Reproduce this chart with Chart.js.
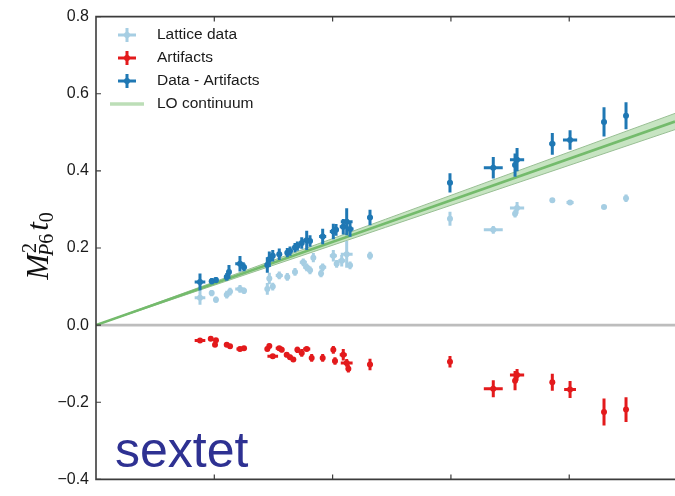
<!DOCTYPE html>
<html>
<head>
<meta charset="utf-8">
<script src="https://cdn.jsdelivr.net/npm/chart.js@4.4.1/dist/chart.umd.min.js"></script>
<style>
  html, body { margin: 0; padding: 0; background: #fff; }
</style>
</head>
<body>
<canvas id="chart" width="675" height="496"></canvas>
<script>
// axis ranges and ticks
const xMin = 0, xMax = 4.894;
const xTickValues = [1, 2, 3, 4];
const yTickValues = [-0.4, -0.2, 0.0, 0.2, 0.4, 0.6, 0.8];

const seriesNames = ["Lattice data", "Artifacts", "Data - Artifacts", "LO continuum"];

// Lattice data
const latX = [0.879,0.978,1.014,1.105,1.133,1.217,1.251,1.448,1.465,1.494,1.549,1.617,1.682,1.752,1.781,1.809,1.837,1.902,1.916,2.006,2.034,2.077,2.119,2.147,2.316,2.992,3.358,3.542,3.559,3.857,4.007,4.294,4.480];
const latY = [0.071,0.083,0.066,0.079,0.087,0.094,0.089,0.094,0.121,0.100,0.129,0.125,0.138,0.163,0.150,0.142,0.175,0.134,0.150,0.180,0.159,0.167,0.184,0.155,0.180,0.276,0.247,0.289,0.304,0.324,0.318,0.306,0.329];
const latXErr = [0.045,0.015,0.015,0.02,0.01,0.04,0.02,0.02,0.02,0.02,0.03,0.02,0.02,0.03,0.03,0.02,0.02,0.015,0.03,0.03,0.02,0.03,0.05,0.02,0.02,0.015,0.08,0.01,0.06,0.02,0.03,0.02,0.01];
const latYErr = [0.018,0.008,0.008,0.01,0.01,0.01,0.008,0.015,0.015,0.01,0.01,0.01,0.01,0.01,0.01,0.01,0.012,0.01,0.01,0.015,0.01,0.015,0.035,0.01,0.01,0.018,0.01,0.01,0.015,0.005,0.005,0.005,0.01];

// Artifacts
const artX = [0.879,0.970,1.014,1.006,1.105,1.133,1.217,1.251,1.448,1.465,1.494,1.549,1.570,1.612,1.640,1.668,1.702,1.739,1.781,1.823,1.916,2.006,2.020,2.090,2.119,2.133,2.316,2.992,3.358,3.542,3.559,3.857,4.007,4.294,4.480];
const artY = [-0.040,-0.035,-0.039,-0.051,-0.051,-0.055,-0.062,-0.060,-0.062,-0.054,-0.081,-0.060,-0.064,-0.077,-0.083,-0.089,-0.064,-0.072,-0.062,-0.085,-0.085,-0.064,-0.093,-0.077,-0.098,-0.113,-0.102,-0.095,-0.165,-0.144,-0.129,-0.148,-0.167,-0.225,-0.219];
const artXErr = [0.045,0.01,0.01,0.01,0.02,0.01,0.03,0.02,0.02,0.01,0.045,0.03,0.02,0.02,0.02,0.02,0.02,0.02,0.03,0.01,0.02,0.01,0.02,0.03,0.05,0.02,0.02,0.015,0.08,0.015,0.06,0.02,0.05,0.015,0.01];
const artYErr = [0.005,0.005,0.005,0.006,0.006,0.006,0.006,0.005,0.006,0.006,0.006,0.006,0.006,0.006,0.006,0.006,0.008,0.01,0.006,0.01,0.01,0.01,0.01,0.015,0.01,0.01,0.015,0.015,0.022,0.025,0.015,0.022,0.022,0.035,0.032];

// Data - Artifacts
const subX = [0.879,0.978,1.014,1.105,1.124,1.217,1.251,1.448,1.465,1.494,1.549,1.617,1.640,1.682,1.702,1.739,1.781,1.809,1.916,2.006,2.029,2.090,2.119,2.147,2.316,2.992,3.358,3.542,3.559,3.857,4.007,4.294,4.480];
const subY = [0.112,0.114,0.117,0.125,0.138,0.159,0.150,0.156,0.171,0.180,0.184,0.188,0.192,0.201,0.205,0.213,0.220,0.218,0.230,0.243,0.247,0.255,0.268,0.249,0.279,0.369,0.408,0.415,0.429,0.470,0.480,0.527,0.543];
const subXErr = [0.045,0.015,0.015,0.02,0.01,0.04,0.02,0.02,0.02,0.02,0.02,0.02,0.02,0.02,0.015,0.02,0.03,0.02,0.03,0.03,0.02,0.03,0.05,0.03,0.02,0.02,0.08,0.02,0.06,0.025,0.06,0.02,0.01];
const subYErr = [0.022,0.008,0.008,0.01,0.018,0.02,0.01,0.02,0.02,0.015,0.015,0.012,0.012,0.012,0.012,0.015,0.025,0.015,0.02,0.02,0.015,0.02,0.035,0.02,0.02,0.025,0.028,0.03,0.03,0.028,0.025,0.038,0.035];

// LO continuum line and its band
const loX = [0, 4.894];
const loMid = [0, 0.528];
const loHigh = [0, 0.549];
const loLow = [0, 0.507];

const latColor = "#a6cee3";
const artColor = "#e31a1c";
const subColor = "#1f78b4";
const loColor = "#74bb6c";
const bandFill = "rgba(130, 195, 120, 0.45)";
const bandEdge = "#98bf93";
const legendLoColor = "#bcdeb7";

function points(xs, ys) {
  return xs.map((x, i) => ({ x: x, y: ys[i] }));
}

function errSet(label, xs, ys, xe, ye, color, order) {
  return {
    type: "scatter",
    label: label,
    data: points(xs, ys),
    xErr: xe,
    yErr: ye,
    backgroundColor: color,
    borderColor: color,
    borderWidth: 0,
    pointRadius: 3,
    order: order,
    clip: false
  };
}

const tickFont = '"Liberation Sans", Arial, sans-serif';
const serif = '"Liberation Serif", "DejaVu Serif", serif';

function drawErrCross(ctx, cx, cy, hx, hy, color) {
  ctx.strokeStyle = color;
  ctx.lineWidth = 3;
  ctx.beginPath();
  ctx.moveTo(cx - hx, cy); ctx.lineTo(cx + hx, cy);
  ctx.moveTo(cx, cy - hy); ctx.lineTo(cx, cy + hy);
  ctx.stroke();
}

function drawYLabel(ctx, cx, cy) {
  const big = 31, small = 20;
  ctx.save();
  ctx.translate(cx, cy);
  ctx.rotate(-Math.PI / 2);
  ctx.fillStyle = "#111";
  ctx.textBaseline = "alphabetic";
  ctx.font = "italic " + big + "px " + serif;
  const wM = ctx.measureText("M").width;
  const wt = ctx.measureText("t").width;
  ctx.font = small + "px " + serif;
  const w2 = ctx.measureText("2").width;
  const w6 = ctx.measureText("6").width;
  const w0 = ctx.measureText("0").width;
  ctx.font = "italic " + small + "px " + serif;
  const wP = ctx.measureText("P").width;
  const wScript = Math.max(w2, wP + w6 - 2);
  const total = wM + wScript + 3 + wt + w0;
  const b = 8;
  let x = -total / 2;
  ctx.font = "italic " + big + "px " + serif;
  ctx.fillText("M", x, b);
  x += wM;
  ctx.font = small + "px " + serif;
  ctx.fillText("2", x + 1, b - 12);
  ctx.font = "italic " + small + "px " + serif;
  ctx.fillText("P", x - 2, b + 5);
  ctx.font = small + "px " + serif;
  ctx.fillText("6", x - 2 + wP, b + 5);
  x += wScript + 3;
  ctx.font = "italic " + big + "px " + serif;
  ctx.fillText("t", x, b);
  x += wt;
  ctx.font = small + "px " + serif;
  ctx.fillText("0", x, b + 5);
  ctx.restore();
}

const extras = {
  id: "extras",
  beforeDatasetsDraw(chart) {
    const { ctx, chartArea: a, scales: { y } } = chart;
    const y0 = y.getPixelForValue(0);
    ctx.save();
    ctx.strokeStyle = "#bdbdbd";
    ctx.lineWidth = 2.6;
    ctx.beginPath();
    ctx.moveTo(a.left, y0);
    ctx.lineTo(a.right, y0);
    ctx.stroke();
    ctx.restore();
  },
  afterDatasetDraw(chart, args) {
    const ds = chart.data.datasets[args.index];
    if (!ds.xErr) return;
    const { ctx, scales: { x, y } } = chart;
    ctx.save();
    ds.data.forEach((p, i) => {
      const px = x.getPixelForValue(p.x);
      const py = y.getPixelForValue(p.y);
      const hx = Math.abs(x.getPixelForValue(p.x + ds.xErr[i]) - px);
      const hy = Math.abs(y.getPixelForValue(p.y + ds.yErr[i]) - py);
      drawErrCross(ctx, px, py, hx, hy, ds.borderColor);
    });
    ctx.restore();
  },
  afterDraw(chart) {
    const { ctx, chartArea: a, scales: { x, y } } = chart;
    ctx.save();
    // spines
    ctx.strokeStyle = "#3c3c3c";
    ctx.lineWidth = 1.6;
    ctx.beginPath();
    ctx.moveTo(a.right, a.top); ctx.lineTo(a.left, a.top);
    ctx.lineTo(a.left, a.bottom); ctx.lineTo(a.right, a.bottom);
    ctx.stroke();
    // inward ticks
    ctx.lineWidth = 1.2;
    ctx.beginPath();
    yTickValues.forEach(v => {
      const py = y.getPixelForValue(v);
      ctx.moveTo(a.left, py); ctx.lineTo(a.left + 5, py);
    });
    xTickValues.forEach(v => {
      const px = x.getPixelForValue(v);
      ctx.moveTo(px, a.bottom); ctx.lineTo(px, a.bottom - 5);
      ctx.moveTo(px, a.top); ctx.lineTo(px, a.top + 5);
    });
    ctx.stroke();

    // legend
    const colors = [latColor, artColor, subColor];
    const rowY = [35, 58, 81, 104];
    const mx = 127;
    ctx.font = "15.5px " + tickFont;
    ctx.textBaseline = "middle";
    ctx.textAlign = "left";
    seriesNames.forEach((name, i) => {
      if (i < 3) {
        drawErrCross(ctx, mx, rowY[i], 9, 7, colors[i]);
        ctx.fillStyle = colors[i];
        ctx.beginPath();
        ctx.arc(mx, rowY[i], 3, 0, Math.PI * 2);
        ctx.fill();
      } else {
        ctx.strokeStyle = legendLoColor;
        ctx.lineWidth = 3.5;
        ctx.beginPath();
        ctx.moveTo(110, rowY[i]); ctx.lineTo(144, rowY[i]);
        ctx.stroke();
      }
      ctx.fillStyle = "#1a1a1a";
      ctx.fillText(name, 157, rowY[i]);
    });

    // sextet tag
    ctx.fillStyle = "#2e3192";
    ctx.font = "50px " + tickFont;
    ctx.textBaseline = "alphabetic";
    ctx.fillText("sextet", 115, 467);
    ctx.restore();

    drawYLabel(ctx, 40, (a.top + a.bottom) / 2 - 2);
  }
};

const chart = new Chart(document.getElementById("chart"), {
  data: {
    datasets: [
      {
        type: "line", label: "band high",
        data: points(loX, loHigh),
        borderColor: bandEdge, borderWidth: 1, pointRadius: 0,
        backgroundColor: bandFill, fill: "+1", order: 10
      },
      {
        type: "line", label: "band low",
        data: points(loX, loLow),
        borderColor: bandEdge, borderWidth: 1, pointRadius: 0,
        fill: false, order: 9
      },
      {
        type: "line", label: seriesNames[3],
        data: points(loX, loMid),
        borderColor: loColor, borderWidth: 2.6, pointRadius: 0,
        fill: false, order: 8
      },
      errSet(seriesNames[0], latX, latY, latXErr, latYErr, latColor, 3),
      errSet(seriesNames[1], artX, artY, artXErr, artYErr, artColor, 2),
      errSet(seriesNames[2], subX, subY, subXErr, subYErr, subColor, 1)
    ]
  },
  options: {
    responsive: false,
    animation: false,
    layout: { autoPadding: false, padding: { top: 14, right: 0, bottom: 0, left: 0 } },
    plugins: {
      legend: { display: false },
      tooltip: { enabled: false }
    },
    scales: {
      x: {
        type: "linear",
        min: xMin,
        max: xMax,
        ticks: { display: false },
        grid: { display: false, drawTicks: false },
        border: { display: false },
        afterFit: s => { s.height = 6; }
      },
      y: {
        type: "linear",
        min: yTickValues[0],
        max: yTickValues[yTickValues.length - 1],
        afterBuildTicks: s => { s.ticks = yTickValues.map(v => ({ value: v })); },
        ticks: {
          padding: 7,
          color: "#1a1a1a",
          font: { family: tickFont, size: 16 },
          callback: v => {
            const n = Math.abs(v) < 1e-9 ? 0 : v;
            return n.toFixed(1).replace("-", "\u2212");
          }
        },
        grid: { display: false, drawTicks: false },
        border: { display: false },
        afterFit: s => { s.width = 96; }
      }
    }
  },
  plugins: [extras]
});
</script>
</body>
</html>
